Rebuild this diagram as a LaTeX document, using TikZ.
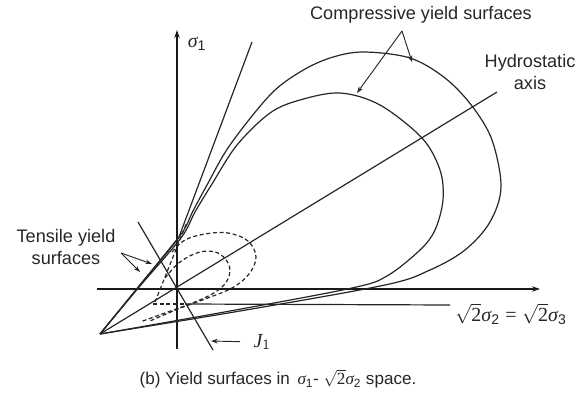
\documentclass[tikz,border=0pt]{standalone}
\usepackage{fontspec}
\setmainfont{Liberation Sans}
\newfontfamily\tmsfont{Liberation Serif}
\usetikzlibrary{arrows.meta}
\newcommand\mysig[1]{{\tmsfont\itshape σ}\textsubscript{#1}}
\newcommand\myroot{$\sqrt{\hbox{\tmsfont 2}}$}
\begin{document}
\begin{tikzpicture}[x=0.75pt,y=-0.75pt,
  lbl/.style={font=\fontsize{13.6}{15.8}\selectfont, inner sep=0pt, align=center, text=black!85},
  curve/.style={line width=0.9pt, draw=black!85},
  dcurve/.style={line width=0.9pt, draw=black!85, dash pattern=on 3pt off 2pt},
  axisline/.style={line width=1.6pt, draw=black!90, -{Stealth[length=6pt,width=4pt]}},
  ptr/.style={line width=0.7pt, draw=black!85, -{Stealth[length=5pt,width=3.5pt]}}]
\useasboundingbox (0,0) rectangle (585,395);
% key points
\coordinate (O) at (177,289);
\coordinate (apex) at (100,334);
\coordinate (ytop) at (177,30);
\coordinate (ybot) at (177,349);
\coordinate (xl) at (97,289);
\coordinate (xr) at (540,289);
\coordinate (hend) at (497,92);
\coordinate (tk) at (179,237);
\coordinate (ttop) at (252,42);
\coordinate (ja) at (138,222);
\coordinate (jb) at (213,350);
\coordinate (jhit) at (211,341);
\coordinate (cfork) at (402,31);
\coordinate (c1hit) at (412,62);
\coordinate (c2hit) at (357,93);
\coordinate (tfork) at (121,253);
\coordinate (t1hit) at (140,272);
\coordinate (t2hit) at (152,264);
\coordinate (ha) at (153,304);
\coordinate (hb) at (185,304);
\coordinate (hc) at (450,305);
\coordinate (da) at (155,302);
\coordinate (db) at (187,222);
% axes
\draw[axisline] (ybot) -- (ytop);
\draw[axisline] (xl) -- (xr);
% hydrostatic axis and tangent line
\draw[curve] (apex) -- (hend);
\draw[curve] (apex) -- (tk) -- (ttop);
% J1 line
\draw[curve] (ja) -- (jb);
% compressive yield surfaces
\draw[curve] plot[smooth, tension=0.55] coordinates {(100,334) (140,285) (180,236) (193,211) (207,185) (230,145) (270,95) (300,72) (330,58) (363,52) (410,58) (445,78) (472,106) (492,140) (501,187) (490,222) (465,250) (430,270) (385,285) (240,311) (100,334)};
\draw[curve] plot[smooth, tension=0.55] coordinates {(100,334) (140,286) (181,238) (195,212) (212,184) (237,145) (270,113) (300,100) (340,93) (380,105) (422,138) (440,170) (443,200) (435,230) (420,250) (387,276) (352,288) (230,311) (100,334)};
% tensile yield surfaces
\draw[dcurve] (da) -- (db);
\draw[dcurve] plot[smooth, tension=0.6] coordinates {(172,252) (185,240) (205,234) (228,233) (248,241) (256,257) (249,274) (232,288) (205,299) (178,309) (150,321)};
\draw[dcurve] plot[smooth, tension=0.6] coordinates {(165,278) (180,262) (200,252) (218,253) (229,265) (228,279) (217,291) (195,302) (165,313) (140,322)};
% sqrt2 sigma2 = sqrt2 sigma3 line
\draw[dcurve] (ha) -- (hb);
\draw[curve] (hb) -- (hc);
% labels
\node[lbl] (comp) at (421,15) {Compressive yield surfaces};
\node[lbl] (hyd) at (530,72) {Hydrostatic\\axis};
\node[lbl] (tens) at (66,247) {Tensile yield\\surfaces};
\node[lbl, font=\fontsize{15}{17}\selectfont] (s1) at (197,44) {\mysig{1}};
\node[lbl, font=\fontsize{15}{17}\selectfont\tmsfont\itshape] (J) at (262,342) {J\textsubscript{\upshape\sffamily 1}};
\node[lbl, font=\fontsize{15}{17}\selectfont] (eq) at (511,314) {\myroot\mysig{2} {\tmsfont =} \myroot\mysig{3}};
\node[lbl, font=\fontsize{12.8}{15}\selectfont] (cap) at (278,379) {(b) Yield surfaces in \,\mysig{1}- \myroot\mysig{2} space.};
% pointers
\draw[ptr] (cfork) -- (c1hit);
\draw[ptr] (cfork) -- (c2hit);
\draw[ptr] (tfork) -- (t1hit);
\draw[ptr] (tfork) -- (t2hit);
\draw[ptr, shorten <=10pt] (J.west) -- (jhit);
\end{tikzpicture}
\end{document}
